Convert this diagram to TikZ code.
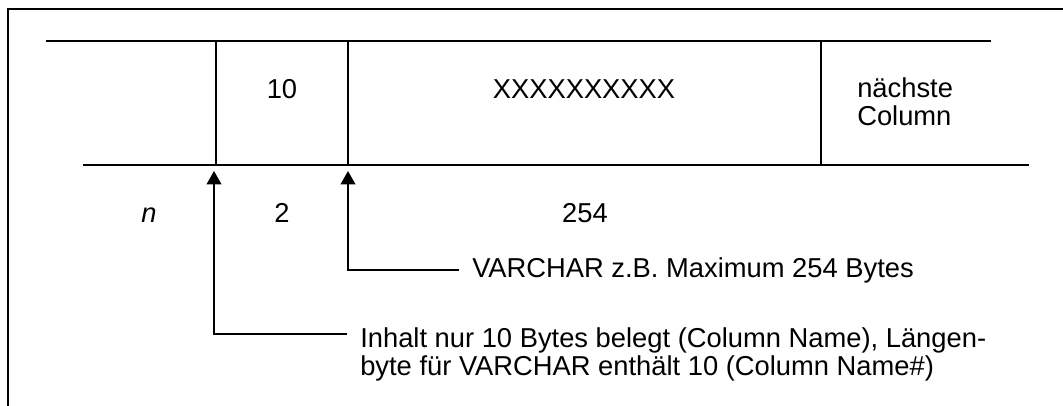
\documentclass[tikz,border=0pt]{standalone}
\usepackage{fontspec}
\setmainfont{Liberation Sans}
\usetikzlibrary{arrows.meta, positioning}

\begin{document}
\begin{tikzpicture}[
  x=0.75pt, y=-0.75pt,
  lbl/.style={font=\fontsize{20.5}{21}\selectfont, inner sep=0pt},
  rule/.style={line width=1.5pt},
  arr/.style={-{Triangle[length=10pt, width=11pt]}, line width=1.2pt}
]
  \useasboundingbox (0,0) rectangle (1063,406);
  % outer frame
  \draw[rule] (8,406) -- (8,9) -- (1063,9);
  % record layout
  \draw[rule] (46,41) -- (991,41);
  \draw[rule] (83,165) -- (1029,165);
  \foreach \x in {216,348,821}
    \draw[rule] (\x,41) -- (\x,165);

  \node[lbl, anchor=base] (len) at (282,99) {10};
  \node[lbl, anchor=base] (data) at (584,99) {XXXXXXXXXX};
  \node[lbl, anchor=base west, align=left] (next) at (857,126) {nächste\\Column};

  % byte counts
  \node[lbl, anchor=base] (n) at (149,222) {\textit{n}};
  \node[lbl, anchor=base] (two) at (282,222) {2};
  \node[lbl, anchor=base] (max) at (585,222) {254};

  \node[lbl, anchor=west] (varchar) at (472,270) {VARCHAR z.B. Maximum 254 Bytes};
  \node[lbl, anchor=north west, align=left] (inhalt) at (360,327)
    {Inhalt nur 10 Bytes belegt (Column Name), Längen-\\byte für VARCHAR enthält 10 (Column Name\#)};

  \coordinate (tip1) at (214,171);
  \coordinate (tip2) at (348,171);
  \coordinate (end1) at (347,334);
  \coordinate (end2) at (459,270);
  \draw[arr] (end2) -| (tip2);
  \draw[arr] (end1) -| (tip1);
\end{tikzpicture}
\end{document}
